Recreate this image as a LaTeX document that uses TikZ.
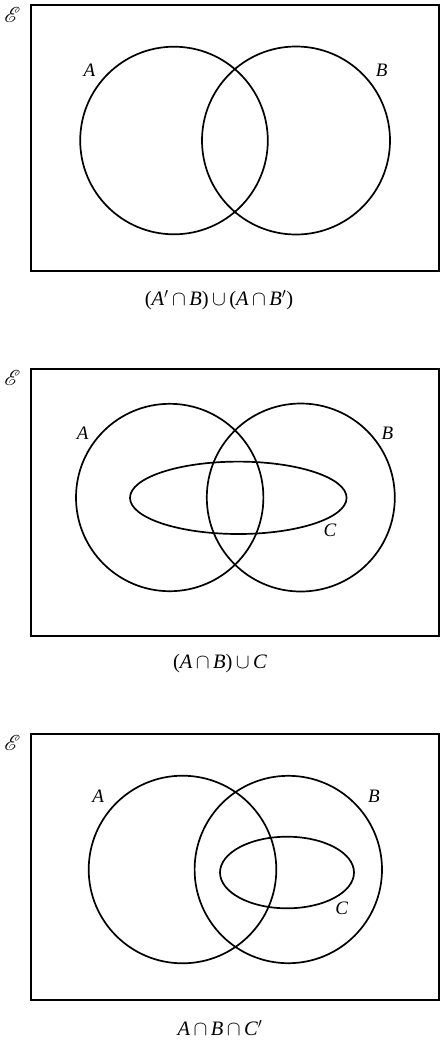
\documentclass[tikz,border=0pt]{standalone}
\usepackage{fontspec}
\setmainfont{Liberation Serif}
\usepackage{mathrsfs}
\usepackage{graphicx}
\newcommand{\vi}[1]{\textit{#1}}
\newcommand{\capop}{\,$\cap$\,}
\newcommand{\cupop}{\,$\cup$\,}
\newcommand{\prm}{$'$}
\newcommand{\univ}{\scalebox{2.15}{$\mathscr{E}$}}
\begin{document}
\begin{tikzpicture}[x=1pt,y=-1pt,
  frame/.style={line width=2pt},
  setline/.style={line width=1.7pt},
  lbl/.style={font=\fontsize{19}{21}\selectfont\itshape, inner sep=0pt},
  captxt/.style={font=\fontsize{20.5}{22}\selectfont, inner sep=0pt},
  uni/.style={font=\fontsize{10}{12}\selectfont, inner sep=0pt}]
\useasboundingbox (0,0) rectangle (447,1045);
% ---------- Panel 1 ----------
\draw[frame] (30.7,4.7) rectangle (439.3,271.3);
\node[uni] (e1) at (12.5,14.5) {\univ};
\draw[setline] (174,140.5) circle (93.8);
\draw[setline] (296,140.5) circle (94);
\node[lbl] (a1) at (89.5,70) {A};
\node[lbl] (b1) at (381.7,70) {B};
\node[captxt] (c1) at (219,300) {(\vi{A}\prm\capop\vi{B})\cupop(\vi{A}\capop\vi{B}\prm)};
% ---------- Panel 2 ----------
\draw[frame] (30.7,369.3) rectangle (439.3,636);
\node[uni] (e2) at (12.5,378.3) {\univ};
\draw[setline] (169.7,497.5) circle (93.7);
\draw[setline] (300.8,497.5) circle (94);
\draw[setline] (238.3,497.8) ellipse (108.3 and 36.2);
\node[lbl] (a2) at (82.7,433.3) {A};
\node[lbl] (b2) at (387.3,433.3) {B};
\node[lbl] (cc2) at (330,530.7) {C};
\node[captxt] (c2) at (220,663.3) {(\vi{A}\capop\vi{B})\cupop\vi{C}};
% ---------- Panel 3 ----------
\draw[frame] (30.7,734.3) rectangle (439.3,1000.3);
\node[uni] (e3) at (12.5,743.3) {\univ};
\draw[setline] (182.5,869.5) circle (93.8);
\draw[setline] (288.3,869.5) circle (93.7);
\draw[setline] (287,872.5) ellipse (67 and 35.8);
\node[lbl] (a3) at (98.3,796.7) {A};
\node[lbl] (b3) at (374,796.7) {B};
\node[lbl] (cc3) at (341.7,908.3) {C};
\node[captxt] (c3) at (220,1028.3) {\vi{A}\capop\vi{B}\capop\vi{C}\prm};
\end{tikzpicture}
\end{document}
